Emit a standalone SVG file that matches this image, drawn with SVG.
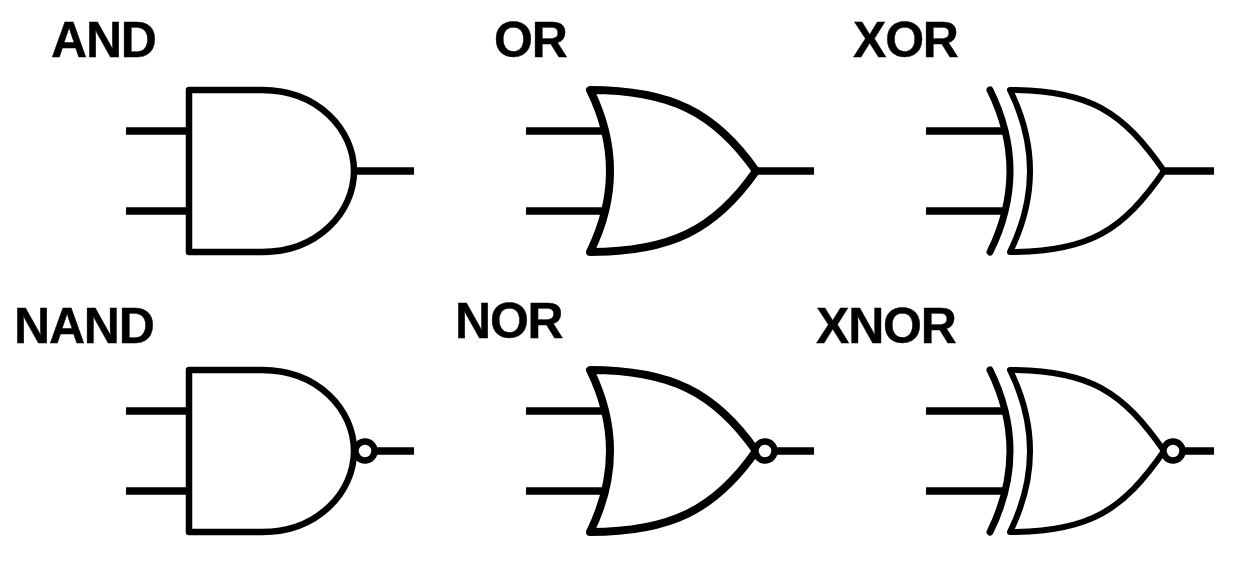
<svg xmlns="http://www.w3.org/2000/svg" width="1240" height="567" viewBox="0 0 1240 567">
<style>
text{font-family:"Liberation Sans",Arial,sans-serif;font-weight:700;font-size:50px;letter-spacing:-1.2px;fill:#000;stroke:#000;stroke-width:.4}
.s{fill:none;stroke:#000;stroke-linecap:round;stroke-linejoin:round}
.w{fill:none;stroke:#000;stroke-width:7.5}
.b{fill:#fff;stroke:#000;stroke-width:6.5}
</style>
<rect width="1240" height="567" fill="#fff"/>
<g id="connectors">
<path class="w" d="M126 131H189M126 211H189M354 171H414"/>
<path class="w" d="M526 131H604M526 211H604M756 171H814"/>
<path class="w" d="M926 131H1005M926 211H1005M1164 171H1214"/>
<path class="w" d="M126 411H189M126 491H189M375 451H414"/>
<path class="w" d="M526 411H604M526 491H604M775 451H814"/>
<path class="w" d="M926 411H1005M926 491H1005M1184 451H1214"/>
</g>
<g id="and"><text x="51" y="57">AND</text>
<path class="s" stroke-width="6.5" d="M189 90H262C318 90 354 130 354 171C354 212 318 252 262 252L189 252Z"/></g>
<g id="or"><text x="494" y="57">OR</text>
<path class="s" stroke-width="8" d="M590 90C670 90 715 112 756 171C715 230 670 252 590 252Q630 171 590 90Z"/></g>
<g id="xor"><text x="853" y="57">XOR</text>
<path class="s" stroke-width="7" d="M990 90Q1030 171 990 252"/>
<path class="s" stroke-width="6" d="M1010 90C1090 90 1123 112 1164 171C1123 230 1090 252 1010 252Q1050 171 1010 90Z"/></g>
<g id="nand"><text x="14" y="342.500">NAND</text>
<path class="s" stroke-width="6.5" d="M189 370H262C318 370 354 410 354 451C354 492 318 532 262 532L189 532Z"/>
<circle class="b" cx="365" cy="451" r="9.5"/></g>
<g id="nor"><text x="455" y="337.500">NOR</text>
<path class="s" stroke-width="8" d="M590 370C670 370 715 392 756 451C715 510 670 532 590 532Q630 451 590 370Z"/>
<circle class="b" cx="765" cy="451" r="9.5"/></g>
<g id="xnor"><text x="816" y="342.500">XNOR</text>
<path class="s" stroke-width="7" d="M990 370Q1030 451 990 532"/>
<path class="s" stroke-width="6" d="M1010 370C1090 370 1123 392 1164 451C1123 510 1090 532 1010 532Q1050 451 1010 370Z"/>
<circle class="b" cx="1173" cy="451" r="9.5"/></g>
</svg>
